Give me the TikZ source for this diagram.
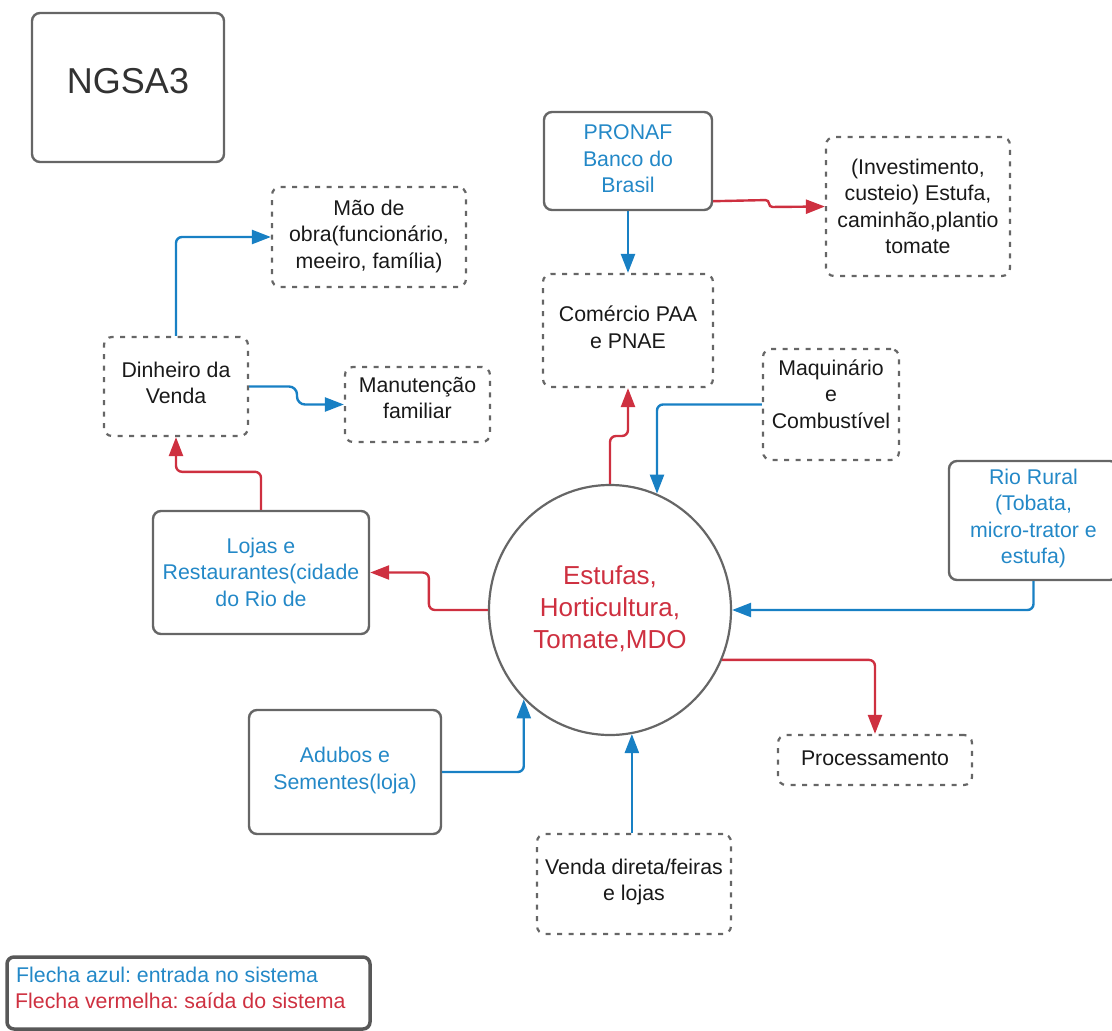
\documentclass[tikz,border=0pt]{standalone}
\usepackage{fontspec}
\setmainfont{Liberation Sans}
\usetikzlibrary{arrows.meta,shapes.geometric}
\frenchspacing

\definecolor{flowblue}{RGB}{24,128,196}
\definecolor{textblue}{RGB}{35,136,199}
\definecolor{flowred}{RGB}{206,48,64}
\definecolor{edgegray}{RGB}{102,102,102}
\definecolor{legendgray}{RGB}{88,88,88}
\definecolor{inkblack}{RGB}{25,25,25}

\tikzset{
  shell/.style={inner sep=0pt, draw=edgegray, rounded corners=8pt},
  solidbox/.style={shell, line width=2.4pt},
  dashbox/.style={shell, line width=2.2pt, dash pattern=on 5pt off 6.5pt},
  hubshape/.style={ellipse, inner sep=0pt, draw=edgegray, line width=2.2pt,
    minimum width=242pt, minimum height=250pt},
  txt/.style={inner sep=0pt, align=center, text=inkblack,
    font=\fontsize{21.3}{26.5}\selectfont},
  bluetxt/.style={txt, text=textblue},
  redtxt/.style={txt, text=flowred},
  tip/.style={-{Triangle[length=19pt,width=14pt]}},
  inflow/.style={draw=flowblue, line width=2.4pt, rounded corners=6pt, tip},
  outflow/.style={draw=flowred, line width=2.4pt, rounded corners=6pt, tip}
}

\begin{document}
\begin{tikzpicture}[x=1pt,y=-1pt]
\useasboundingbox (0,0) rectangle (1112,1031);
\clip (0,0) rectangle (1112,1031);

% title
\node[solidbox, minimum width=192pt, minimum height=149pt] (ngsa) at (128,87.5) {};
\node[txt, text={rgb,255:red,50;green,50;blue,50}, font=\fontsize{36}{40}\selectfont]
  (ngsatext) at ([yshift=6.5pt]ngsa.center) {NGSA3};

% boxes
\node[dashbox, minimum width=194pt, minimum height=100pt] (mao) at (369,237) {};
\node[txt] (maotext) at ([yshift=1pt]mao.center) {Mão de\\obra(funcionário,\\meeiro, família)};

\node[dashbox, minimum width=144pt, minimum height=99pt] (din) at (176,386.5) {};
\node[txt] (dintext) at ([yshift=3.5pt]din.center) {Dinheiro da\\Venda};

\node[dashbox, minimum width=145pt, minimum height=75pt] (man) at (417.5,404.5) {};
\node[txt] (mantext) at ([yshift=6.5pt]man.center) {Manutenção\\familiar};

\node[solidbox, minimum width=168pt, minimum height=98pt] (pronaf) at (628,161) {};
\node[bluetxt] (pronaftext) at ([yshift=2pt]pronaf.center) {PRONAF\\Banco do\\Brasil};

\node[dashbox, minimum width=184pt, minimum height=139pt] (inv) at (918,206.5) {};
\node[txt] (invtext) at (inv.center) {(Investimento,\\custeio) Estufa,\\caminhão,plantio\\tomate};

\node[dashbox, minimum width=170pt, minimum height=113pt] (com) at (628,330.5) {};
\node[txt] (comtext) at ([yshift=3pt]com.center) {Comércio PAA\\e PNAE};

\node[dashbox, minimum width=136pt, minimum height=111pt] (maq) at (831,404.5) {};
\node[txt] (maqtext) at ([yshift=10.5pt]maq.center) {Maquinário\\e\\Combustível};

\node[solidbox, minimum width=169pt, minimum height=119pt] (rio) at (1033.5,520.5) {};
\node[bluetxt] (riotext) at ([yshift=2pt]rio.center) {Rio Rural\\(Tobata,\\micro-trator e\\estufa)};

\node[solidbox, minimum width=216pt, minimum height=123pt] (lojas) at (261,572.5) {};
\node[bluetxt] (lojastext) at ([yshift=0.5pt]lojas.center) {Lojas e\\Restaurantes(cidade\\do Rio de};

\node[hubshape] (hub) at (610,610) {};
\node[redtxt, font=\fontsize{26}{32}\selectfont] (hubtext) at ([yshift=1pt]hub.center)
  {Estufas,\\Horticultura,\\Tomate,MDO};

\node[dashbox, minimum width=194pt, minimum height=50pt] (proc) at (875,760) {};
\node[txt] (proctext) at ([yshift=1.5pt]proc.center) {Processamento};

\node[solidbox, minimum width=192pt, minimum height=124pt] (adubos) at (345,772) {};
\node[bluetxt] (adubostext) at ([yshift=1.5pt]adubos.center) {Adubos e\\Sementes(loja)};

\node[dashbox, minimum width=194pt, minimum height=100pt] (venda) at (634,884) {};
\node[txt] (vendatext) at ([yshift=2pt]venda.center) {Venda direta/feiras\\e lojas};

% legend
\node[draw=legendgray, line width=3.5pt, rounded corners=7pt, inner sep=0pt,
  minimum width=363pt, minimum height=72pt] (legend) at (188.5,993) {};
\node[bluetxt, anchor=west] (legendin) at (16,975) {Flecha azul: entrada no sistema};
\node[redtxt, anchor=west] (legendout) at (15,1001) {Flecha vermelha: saída do sistema};

% inputs to the system (blue)
\draw[inflow] (din.north) |- (mao.west);
\draw[inflow, rounded corners=8pt] (din.east) -- (297,386.5) -- (297,404.5) -- (man.west);
\draw[inflow] (pronaf.south) -- (com.north);
\draw[inflow] (maq.west) -| (hub.68.3);
\draw[inflow] (rio.south) |- (hub.east);
\draw[inflow] (adubos.east) -| (hub.226.6);
\draw[inflow] (hub.280.6 |- venda.north) -- (hub.280.6);

% outputs of the system (red)
\draw[outflow, rounded corners=3.5pt] ([yshift=10pt]pronaf.south east) -- (769,200)
  -- (769,207) -- (inv.west);
\draw[outflow] (hub.north) -- (610,436) -- (628,436) -- (com.south);
\draw[outflow] (hub.west) -- ++(-59,0) |- (lojas.east);
\draw[outflow] (lojas.north) -- ++(0,-38) -| (din.south);
\draw[outflow] (hub.336.2) -| (proc.north);
\end{tikzpicture}
\end{document}
